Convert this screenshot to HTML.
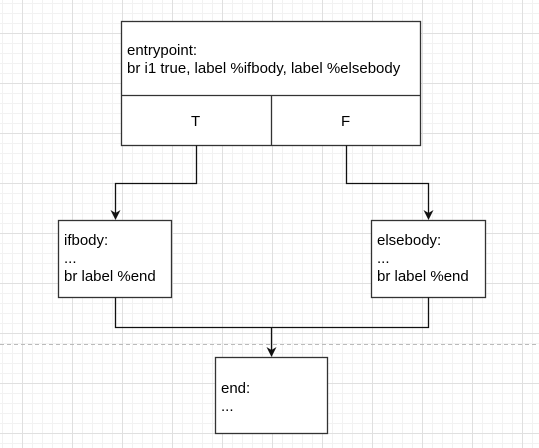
<!DOCTYPE html>
<html><head><style>
html,body{margin:0;padding:0;}
body{width:539px;height:448px;position:relative;overflow:hidden;background:#fff;
background-image:
linear-gradient(to right,#e0e0e0 1px,transparent 1px),
linear-gradient(to bottom,#e0e0e0 1px,transparent 1px),
linear-gradient(to right,#f2f2f2 1px,transparent 1px),
linear-gradient(to bottom,#f2f2f2 1px,transparent 1px);
background-size:50px 50px,50px 50px,10px 10px,10px 10px;
background-position:22px 0,0 33px,2px 0,0 3px;
font-family:"Liberation Sans",Arial,sans-serif;font-size:15px;color:#000;}
.t{position:absolute;white-space:nowrap;line-height:18px;}
</style></head><body>
<svg width="539" height="448" style="position:absolute;left:0;top:0">
<line x1="0" y1="344.5" x2="539" y2="344.5" stroke="#bbb" stroke-dasharray="4,3"/>
<g fill="#fff" stroke="#333" stroke-width="1.3">
<rect x="121.5" y="21.5" width="299" height="124"/>
<line x1="121.5" y1="95.5" x2="420.5" y2="95.5"/>
<line x1="271.5" y1="95.5" x2="271.5" y2="145.5"/>
<rect x="58.5" y="220.5" width="113" height="77"/>
<rect x="371.5" y="220.5" width="114" height="77"/>
<rect x="215.5" y="357.5" width="112" height="76"/>
</g>
<g fill="none" stroke="#111" stroke-width="1.3">
<polyline points="196.5,145.5 196.5,183.5 115.5,183.5 115.5,214"/>
<polyline points="346.5,145.5 346.5,183.5 428.5,183.5 428.5,214"/>
<polyline points="115.5,297.5 115.5,327.5 428.5,327.5 428.5,297.5"/>
<line x1="271.5" y1="327.5" x2="271.5" y2="351"/>
</g>
<g fill="#111">
<polygon points="110.5,210 115.5,220 120.5,210 115.5,213"/>
<polygon points="423.5,210 428.5,220 433.5,210 428.5,213"/>
<polygon points="266.5,347 271.5,357 276.5,347 271.5,350"/>
</g>
</svg>
<div class="t" style="left:127px;top:42px">entrypoint:<br>br i1 true, label %ifbody, label %elsebody</div>
<div class="t" style="left:191px;top:113px">T</div>
<div class="t" style="left:341px;top:113px">F</div>
<div class="t" style="left:64px;top:232px">ifbody:<br>...<br>br label %end</div>
<div class="t" style="left:377px;top:232px">elsebody:<br>...<br>br label %end</div>
<div class="t" style="left:221px;top:380px">end:<br>...</div>
</body></html>
